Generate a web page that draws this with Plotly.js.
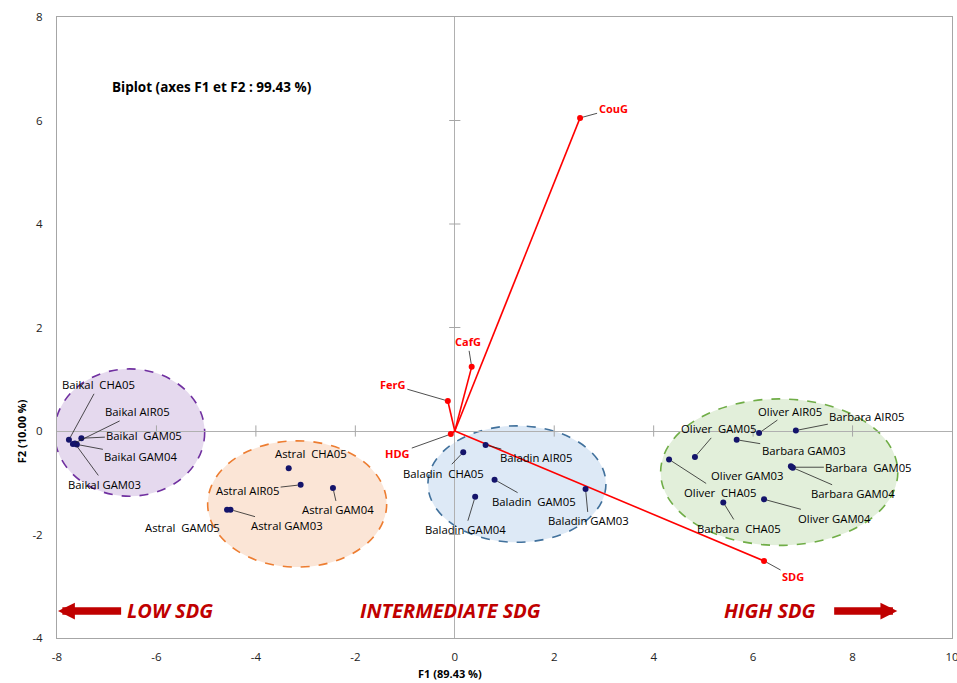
<!DOCTYPE html>
<html>
<head>
<meta charset="utf-8">
<script src="https://cdn.plot.ly/plotly-3.0.1.min.js"></script>
<style>html,body{margin:0;padding:0;background:#fff;}#chart{width:957px;height:683px;}</style>
</head>
<body>
<div id="chart"></div>
<script>
// ---- Data ----
const obsLabels = [
  'Baikal\u00a0 CHA05','Baikal AIR05','Baikal\u00a0 GAM05','Baikal GAM04','Baikal GAM03',
  'Astral\u00a0 CHA05','Astral AIR05','Astral GAM04','Astral GAM03','Astral\u00a0 GAM05',
  'Baladin\u00a0 CHA05','Baladin AIR05','Baladin\u00a0 GAM05','Baladin GAM04','Baladin GAM03',
  'Oliver AIR05','Barbara AIR05','Oliver\u00a0 GAM05','Barbara GAM03','Barbara\u00a0 GAM05',
  'Oliver GAM03','Oliver\u00a0 CHA05','Barbara GAM04','Oliver GAM04','Barbara\u00a0 CHA05'
];
const obsF1 = [
  -7.76, -7.68, -7.51, -7.60, -7.64,
  -3.34, -3.10, -2.45, -4.51, -4.58,
   0.17,  0.62,  0.80,  0.41,  2.63,
   6.12,  6.86,  4.83,  5.67,  6.78,
   6.76,  4.31,  6.80,  6.22,  5.40
];
const obsF2 = [
  -0.17, -0.25, -0.14, -0.26, -0.24,
  -0.72, -1.04, -1.10, -1.52, -1.52,
  -0.41, -0.27, -0.94, -1.27, -1.12,
  -0.04,  0.01, -0.50, -0.17, -0.70,
  -0.68, -0.55, -0.71, -1.32, -1.38
];
const varLabels = ['CouG','CafG','FerG','HDG','SDG'];
const varF1 = [2.52, 0.34, -0.14, -0.08, 6.22];
const varF2 = [6.05, 1.24, 0.58, -0.06, -2.51];
const xTicks = [-8,-6,-4,-2,0,2,4,6,8,10];
const yTicks = [-4,-2,0,2,4,6,8];
const groupNames = ['LOW SDG','INTERMEDIATE SDG','HIGH SDG'];

// ---- Label placement (pixel offsets of label centre from its point; leader shown?) ----
const obsLabelOffsets = [
  [30,-55,1],[65,-32,1],[63,-3,1],[64,12,1],[30,41,1],
  [22,-15,0],[-53,6,1],[5,22,1],[56,16,1],[-45,18,0],
  [-20,21,1],[51,13,1],[39,22,1],[-10,33,1],[3,32,1],
  [31,-22,1],[71,-14,1],[24,-28,1],[67,11,1],[77,0,1],
  [-44,9,0],[51,33,1],[60,26,1],[70,19,1],[16,26,1]
];
const varLabelOffsets = [[33,-9],[-4,-25],[-55,-16],[-53,19],[29,16]];

// ellipses: [x0,x1,y0,y1,fill,line]
const ellipses = [
  [-8.05,-5.03,-1.26,1.20,'#e5d9ee','#7030a0'],
  [-4.97,-1.37,-2.63,-0.19,'#fbe5d6','#ed7d31'],
  [-0.54,3.04,-2.15,0.10,'#dde9f6','#41719c'],
  [4.14,8.91,-2.21,0.62,'#e2efda','#70ad47']
];

const traces = [];
const xInner = xTicks.filter(v=>v!==0 && v!==xTicks[0] && v!==xTicks[xTicks.length-1]);
const yInner = yTicks.filter(v=>v!==0 && v!==yTicks[0] && v!==yTicks[yTicks.length-1]);
// tick marks crossing the zero axes
traces.push({
  x: xInner, y: xInner.map(()=>0),
  mode:'markers', type:'scatter', hoverinfo:'skip', showlegend:false,
  marker:{symbol:'line-ns-open', size:8, color:'#a6a6a6', line:{color:'#a6a6a6', width:1}}
});
traces.push({
  x: yInner.map(()=>0), y: yInner,
  mode:'markers', type:'scatter', hoverinfo:'skip', showlegend:false,
  marker:{symbol:'line-ew-open', size:8, color:'#a6a6a6', line:{color:'#a6a6a6', width:1}}
});
// variable vectors
const vx = [], vy = [];
varF1.forEach((v,i)=>{ vx.push(0, v, null); vy.push(0, varF2[i], null); });
traces.push({x:vx, y:vy, mode:'lines', type:'scatter', line:{color:'#ff0000', width:1.6}, showlegend:false, hoverinfo:'skip'});
traces.push({x:varF1, y:varF2, mode:'markers', type:'scatter', marker:{color:'#ff0000', size:6}, showlegend:false, text:varLabels});
// observations
traces.push({x:obsF1, y:obsF2, mode:'markers', type:'scatter', marker:{color:'#14146b', size:6}, showlegend:false, text:obsLabels});

const shapes = ellipses.map(e=>({
  type:'circle', xref:'x', yref:'y', x0:e[0], x1:e[1], y0:e[2], y1:e[3],
  fillcolor:e[4], line:{color:e[5], width:1.6, dash:'dash'}, layer:'below'
}));

const annotations = [];
const labFont = {family:'Open Sans, sans-serif', size:11.3, color:'#000'};
obsLabels.forEach((t,i)=>{
  const o = obsLabelOffsets[i];
  annotations.push({x:obsF1[i], y:obsF2[i], xref:'x', yref:'y', text:t, showarrow:true,
    ax:o[0], ay:o[1], arrowhead:0, arrowwidth:0.8, arrowcolor:o[2]?'#222':'rgba(0,0,0,0)',
    standoff:3, font:labFont});
});
varLabels.forEach((t,i)=>{
  const o = varLabelOffsets[i];
  annotations.push({x:varF1[i], y:varF2[i], xref:'x', yref:'y', text:'<b>'+t+'</b>', showarrow:true,
    ax:o[0], ay:o[1], arrowhead:0, arrowwidth:0.8, arrowcolor:'#222', standoff:3,
    font:{family:'Open Sans, sans-serif', size:11, color:'#ff0000'}});
});
// title inside plot
annotations.push({xref:'paper', yref:'paper', x:0.059, y:0.887, xanchor:'left', yanchor:'middle',
  text:'<b>Biplot (axes F1 et F2 : 99.43 %)</b>', showarrow:false,
  font:{family:'Open Sans, sans-serif', size:13.5, color:'#000'}});
// axis titles
annotations.push({xref:'x', yref:'paper', x:-0.1, y:-0.057, yanchor:'middle', text:'<b>F1 (89.43 %)</b>', showarrow:false,
  font:{family:'Liberation Sans Narrow, Open Sans, sans-serif', size:11, color:'#000'}});
annotations.push({xref:'paper', yref:'y', x:-0.04, y:0, xanchor:'center', text:'<b>F2 (10.00 %)</b>', showarrow:false, textangle:-90,
  font:{family:'Liberation Sans Narrow, Open Sans, sans-serif', size:11, color:'#000'}});
// group labels
const grpFont = {family:'Open Sans, sans-serif', size:20, color:'#c00000'};
const grpX = [-5.73, -0.08, 6.34];
groupNames.forEach((g,i)=>{
  annotations.push({xref:'x', yref:'y', x:grpX[i], y:-3.46, text:'<b><i>'+g+'</i></b>', showarrow:false, font:grpFont});
});
// big arrows
annotations.push({xref:'x', yref:'y', axref:'x', ayref:'y', x:-7.98, y:-3.48, ax:-6.68, ay:-3.48, text:'',
  showarrow:true, arrowhead:2, arrowsize:0.45, arrowwidth:7.5, arrowcolor:'#c00000'});
annotations.push({xref:'x', yref:'y', axref:'x', ayref:'y', x:8.9, y:-3.48, ax:7.6, ay:-3.48, text:'',
  showarrow:true, arrowhead:2, arrowsize:0.45, arrowwidth:7.5, arrowcolor:'#c00000'});

const axisCommon = {
  showgrid:false, zeroline:true, zerolinecolor:'#b0b0b0', zerolinewidth:1,
  showline:true, linecolor:'#a6a6a6', linewidth:1, mirror:true,
  ticks:'', ticklabeloverflow:'allow',
  tickfont:{family:'Open Sans, sans-serif', size:11.5, color:'#222'}
};

const layout = {
  width:957, height:683,
  margin:{l:57, r:5, t:17, b:45},
  paper_bgcolor:'#fff', plot_bgcolor:'#fff',
  showlegend:false,
  xaxis:Object.assign({}, axisCommon, {range:[-8,10], tickvals:xTicks, ticktext:xTicks.map(String), ticklabelstandoff:8}),
  yaxis:Object.assign({}, axisCommon, {range:[-4,8], tickvals:yTicks, ticktext:yTicks.map(String), ticklabelstandoff:11}),
  shapes:shapes,
  annotations:annotations
};

Plotly.newPlot('chart', traces, layout, {displayModeBar:false, staticPlot:true});
</script>
</body>
</html>
